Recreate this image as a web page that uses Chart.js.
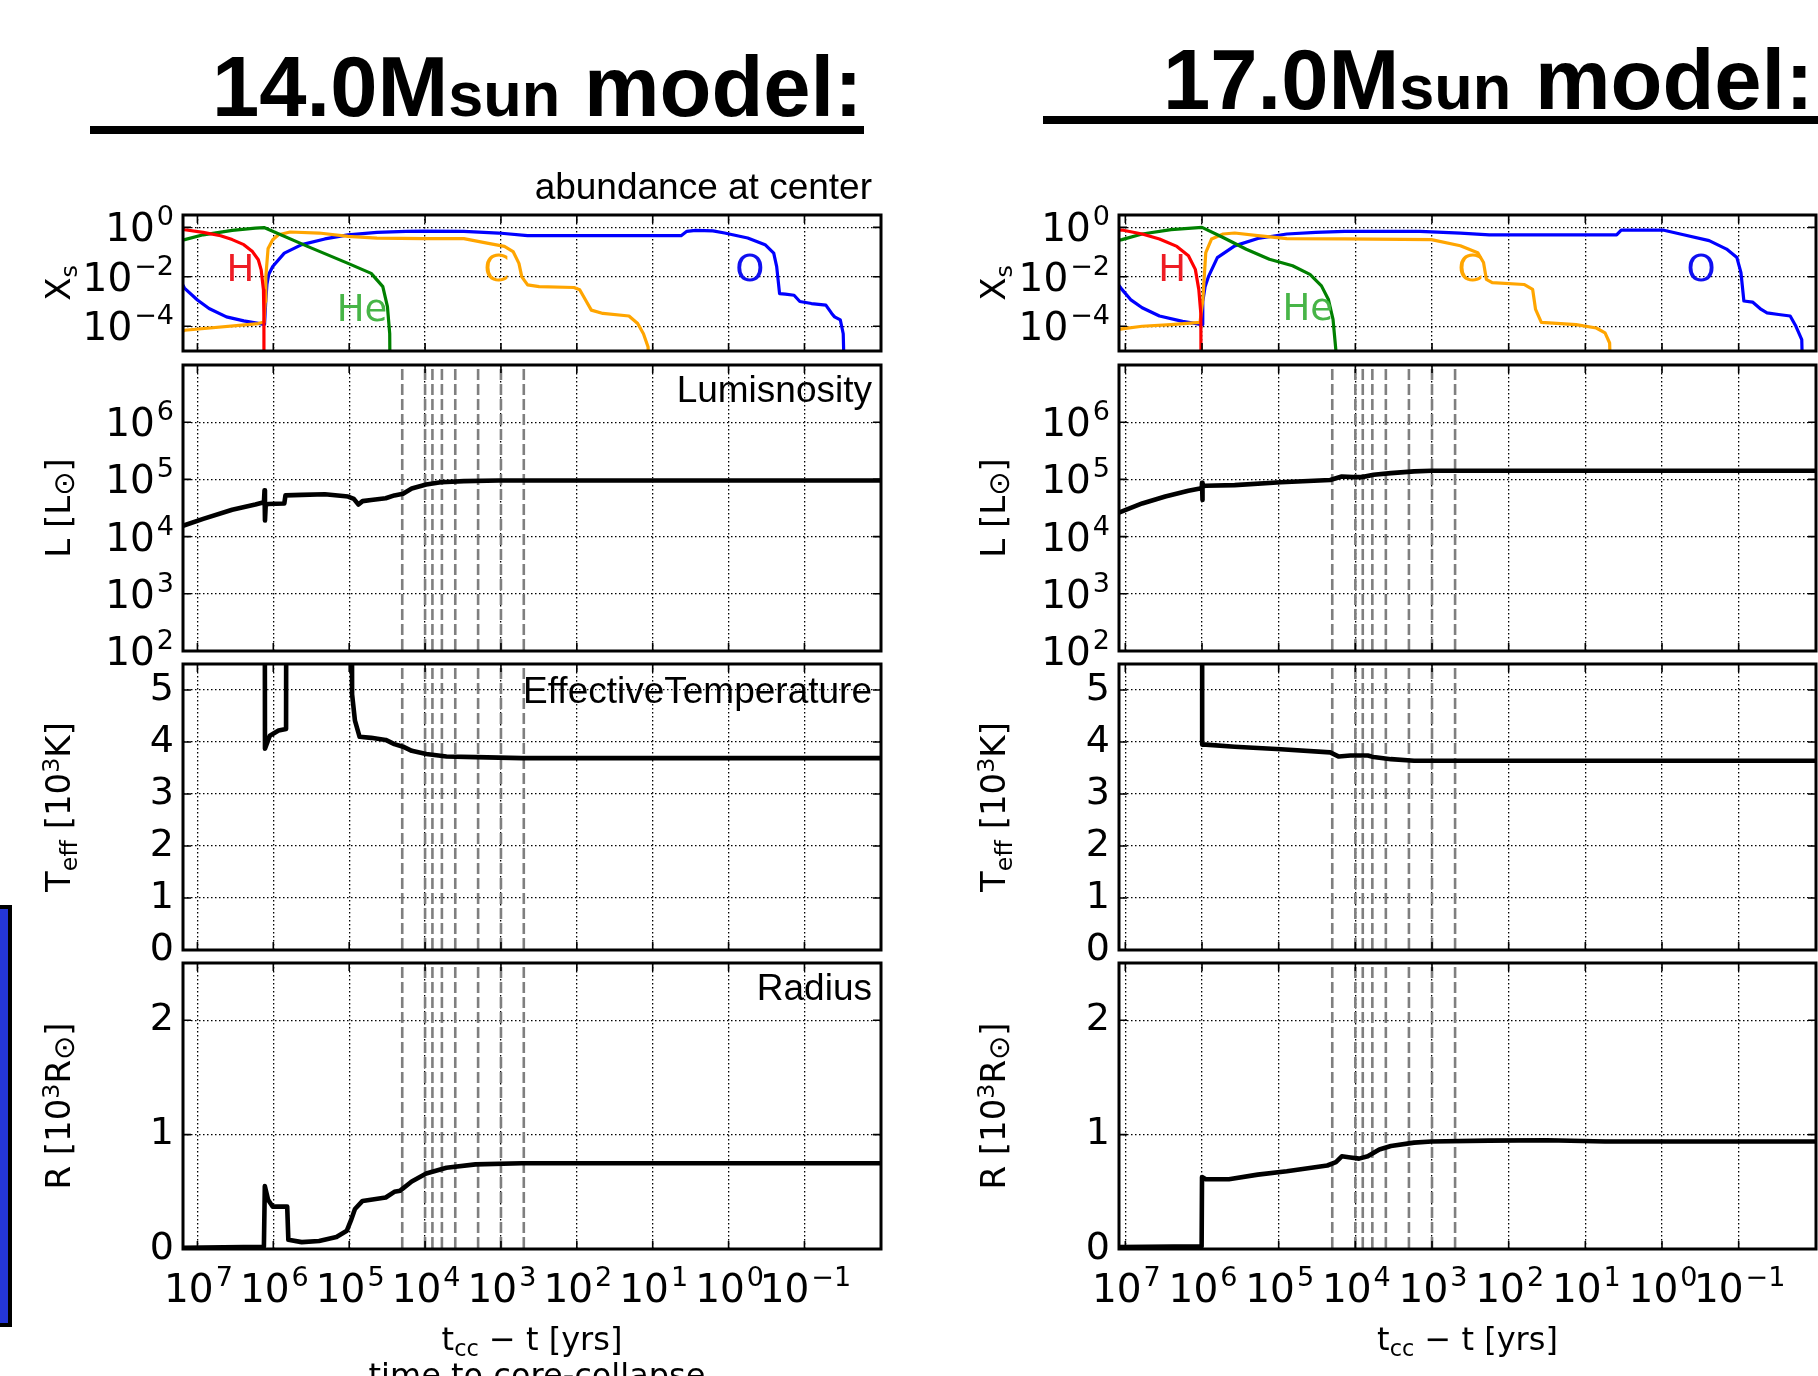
<!DOCTYPE html>
<html><head><meta charset="utf-8">
<script src="https://cdn.jsdelivr.net/npm/chart.js@4.4.1/dist/chart.umd.min.js"></script>
<style>
html,body{margin:0;padding:0;background:#fff;width:1818px;height:1376px;overflow:hidden;position:relative}
canvas{position:absolute}
.t{position:absolute;white-space:nowrap;line-height:1;color:#000}
.t sub{font-size:70%;vertical-align:-0.28em;line-height:0}
.t sup{font-size:70%;vertical-align:0.45em;line-height:0}
.t sub.sun{font-size:85%;vertical-align:-0.15em}
</style></head><body>
<script>
// ---------------- DATA ----------------
const xTickTimes = [1e7, 1e6, 1e5, 1e4, 1e3, 1e2, 1e1, 1e0, 1e-1];   // tcc - t [yrs]
const phaseTimes = [2e4, 1e4, 8e3, 6e3, 4e3, 2e3, 1e3, 5e2];        // dashed markers [yrs]
const abundTicks = [1e0, 1e-2, 1e-4];
const lumTicks   = [1e2, 1e3, 1e4, 1e5, 1e6, 1e7];
const teffTicks  = [0, 1, 2, 3, 4, 5];
const radTicks   = [0, 1, 2];
const speciesNames = ['H', 'He', 'C', 'O'];

// ---- 14.0 Msun : central abundances (log10 of tcc-t in yrs, mass fraction) ----
const m14_H_lgt = [7.19, 7.168, 6.924, 6.695, 6.542, 6.389, 6.275, 6.198, 6.160, 6.130, 6.124, 6.122];
const m14_H_X   = [0.83, 0.80, 0.63, 0.46, 0.32, 0.20, 0.105, 0.049, 0.019, 0.003, 2.5e-4, 1e-9];
const m14_He_lgt = [7.19, 7.168, 6.924, 6.542, 6.237, 6.122, 5.550, 5.015, 4.710, 4.557, 4.496, 4.466, 4.455];
const m14_He_X   = [0.31, 0.32, 0.50, 0.76, 0.93, 0.98, 0.17, 0.035, 0.0138, 0.004, 6.2e-4, 5e-5, 1e-9];
const m14_C_lgt = [7.19, 7.168, 6.198, 6.122, 6.107, 6.099, 6.069, 6.008, 5.931, 5.779, 5.397, 5.015, 4.634, 4.023, 3.489, 3.183, 2.954, 2.840, 2.763, 2.725, 2.649, 2.496, 2.038, 1.962, 1.885, 1.809, 1.656, 1.313, 1.198, 1.122, 1.061, 1.03];
const m14_C_X   = [6.3e-5, 6.9e-5, 1.29e-4, 1.48e-4, 1.0e-3, 1.0e-2, 0.141, 0.316, 0.50, 0.65, 0.59, 0.43, 0.37, 0.35, 0.35, 0.23, 0.17, 0.105, 0.035, 0.010, 4.7e-3, 4.0e-3, 3.7e-3, 3.0e-3, 1.15e-3, 4.5e-4, 3.3e-4, 2.6e-4, 1.29e-4, 5.0e-5, 1.45e-5, 1e-9];
const m14_O_lgt = [7.19, 7.168, 7.0, 6.847, 6.618, 6.389, 6.122, 6.115, 6.100, 6.084, 6.060, 6.008, 5.855, 5.626, 5.321, 5.015, 4.634, 4.252, 4.023, 3.489, 3.031, 2.649, 1.962, 0.626, 0.550, 0.435, 0.206, 0.053, -0.252, -0.481, -0.595, -0.634, -0.672, -0.748, -0.863, -0.939, -1.092, -1.282, -1.359, -1.397, -1.473, -1.511, -1.55];
const m14_O_X   = [4.5e-3, 3.4e-3, 1.15e-3, 5.2e-4, 2.4e-4, 1.66e-4, 1.2e-4, 1.26e-4, 1.0e-3, 5.0e-3, 0.0126, 0.026, 0.091, 0.20, 0.34, 0.50, 0.63, 0.69, 0.71, 0.69, 0.59, 0.46, 0.46, 0.46, 0.69, 0.76, 0.72, 0.59, 0.37, 0.20, 0.091, 0.026, 2.1e-3, 2.0e-3, 1.8e-3, 1.0e-3, 8.3e-4, 7.2e-4, 3.3e-4, 2.4e-4, 1.8e-4, 5.0e-5, 1e-9];
// ---- 14.0 Msun : surface quantities ----
const m14_L_lgt = [7.19, 6.924, 6.542, 6.237, 6.124, 6.116, 6.110, 6.100, 6.069, 5.855, 5.840, 5.626, 5.321, 5.015, 4.939, 4.878, 4.824, 4.710, 4.519, 4.405, 4.290, 4.176, 3.985, 3.794, 3.489, 3.031, -2.01];
const m14_L     = [15500, 20400, 29500, 36300, 39800, 64600, 19100, 35500, 37200, 38000, 52500, 53700, 55000, 50100, 45700, 36300, 41700, 43700, 46800, 52500, 56200, 69200, 81300, 89100, 93300, 95500, 95500];
const m14_T_lgt = [7.19, 6.124, 6.110, 6.046, 5.931, 5.832, 5.817, 4.977, 4.962, 4.924, 4.863, 4.710, 4.519, 4.405, 4.290, 4.176, 3.985, 3.718, 3.336, 2.725, -2.01];
const m14_Teff  = [20, 20, 3.87, 4.12, 4.22, 4.25, 20, 20, 4.92, 4.41, 4.10, 4.08, 4.04, 3.96, 3.91, 3.83, 3.77, 3.72, 3.71, 3.69, 3.69];
const m14_R_lgt = [7.19, 6.124, 6.112, 6.069, 6.008, 5.817, 5.802, 5.626, 5.397, 5.168, 5.031, 4.977, 4.924, 4.824, 4.519, 4.405, 4.328, 4.176, 3.985, 3.718, 3.336, 2.725, -2.01];
const m14_R     = [0.01, 0.02, 0.55, 0.43, 0.37, 0.37, 0.08, 0.06, 0.07, 0.105, 0.16, 0.25, 0.35, 0.42, 0.45, 0.50, 0.51, 0.59, 0.66, 0.71, 0.74, 0.75, 0.75];

// ---- 17.0 Msun : central abundances ----
const m17_H_lgt = [7.083, 7.045, 6.781, 6.555, 6.328, 6.177, 6.087, 6.042, 6.015, 6.011];
const m17_H_X   = [0.79, 0.78, 0.54, 0.34, 0.17, 0.071, 0.020, 0.0031, 3.2e-4, 1e-9];
const m17_He_lgt = [7.083, 7.045, 6.781, 6.404, 6.0, 5.725, 5.423, 5.121, 4.819, 4.592, 4.442, 4.351, 4.291, 4.253, 4.25];
const m17_He_X   = [0.30, 0.32, 0.54, 0.81, 1.0, 0.39, 0.13, 0.051, 0.028, 0.0126, 0.0043, 0.0012, 1.9e-4, 1e-5, 1e-9];
const m17_C_lgt = [7.083, 7.045, 6.781, 6.404, 6.026, 5.989, 5.951, 5.875, 5.725, 5.574, 5.272, 4.894, 4.140, 3.008, 2.630, 2.404, 2.328, 2.291, 2.215, 1.800, 1.687, 1.649, 1.574, 1.121, 0.857, 0.743, 0.683, 0.645];
const m17_C_X   = [7.4e-5, 7.8e-5, 1.0e-4, 1.17e-4, 1.45e-4, 1.2e-3, 0.095, 0.34, 0.54, 0.59, 0.46, 0.35, 0.34, 0.32, 0.18, 0.095, 0.038, 7.9e-3, 5.8e-3, 4.9e-3, 3.1e-3, 4.8e-4, 1.45e-4, 1.17e-4, 8.5e-5, 5.4e-5, 2.1e-5, 1e-9];
const m17_O_lgt = [7.083, 7.045, 6.932, 6.781, 6.555, 6.253, 6.0, 5.99, 5.96, 5.913, 5.8, 5.574, 5.272, 4.894, 4.517, 4.140, 3.158, 2.630, 2.253, 0.592, 0.532, 0.291, -0.011, -0.238, -0.615, -0.842, -0.977, -1.030, -1.068, -1.181, -1.294, -1.370, -1.521, -1.672, -1.747, -1.823, -1.86];
const m17_O_X   = [4.5e-3, 3.1e-3, 1.2e-3, 5.6e-4, 2.6e-4, 1.58e-4, 1.17e-4, 1.0e-3, 4.0e-3, 0.0107, 0.060, 0.178, 0.355, 0.54, 0.63, 0.69, 0.69, 0.59, 0.50, 0.50, 0.78, 0.78, 0.78, 0.54, 0.29, 0.132, 0.060, 0.0148, 1.05e-3, 9.5e-4, 4.8e-4, 3.5e-4, 3.0e-4, 2.6e-4, 1.0e-4, 2.9e-5, 1e-9];
// ---- 17.0 Msun : surface quantities ----
const m17_L_lgt = [7.083, 7.068, 6.781, 6.479, 6.177, 6.026, 6.003, 6.0, 5.997, 5.99, 5.951, 5.574, 4.970, 4.328, 4.177, 4.026, 3.913, 3.762, 3.536, 3.234, 3.008, -2.01];
const m17_L     = [26300, 26900, 38000, 50100, 63100, 69200, 72400, 87100, 43700, 75900, 77600, 79400, 89100, 97700, 112200, 109600, 109600, 120200, 128800, 138000, 141300, 141300];
const m17_T_lgt = [7.083, 6.0, 5.998, 5.951, 5.574, 4.970, 4.328, 4.215, 4.064, 3.838, 3.762, 3.536, 3.234, 3.008, -2.01];
const m17_Teff  = [20, 20, 3.95, 3.95, 3.91, 3.86, 3.80, 3.72, 3.74, 3.74, 3.71, 3.67, 3.64, 3.64, 3.64];
const m17_R_lgt = [7.083, 6.005, 6.0, 5.951, 5.649, 5.272, 4.894, 4.366, 4.253, 4.177, 4.064, 3.951, 3.838, 3.687, 3.536, 3.234, 3.008, 2.253, 1.498, 0.743, -2.01];
const m17_R     = [0.018, 0.023, 0.63, 0.61, 0.61, 0.65, 0.68, 0.73, 0.76, 0.81, 0.80, 0.79, 0.81, 0.87, 0.90, 0.93, 0.94, 0.947, 0.95, 0.94, 0.94];

// ---------------- LAYOUT / STYLE ----------------
const SPECIES_COLORS = {H: '#ff0000', He: '#008000', C: '#ffa500', O: '#0000ff'};
const LABEL_COLORS   = {H: '#ee1c24', He: '#47b547', C: '#ffa500', O: '#1010f0'};
const TICKFONT = {family: "'DejaVu Sans'", size: 38};
const COLS = [
  {left: 183, right: 881, xMin: 0.0098, xMax: 1.55e7, ytx: 58,
   labelPos: {H: [6.435, -1.80], He: [4.83, -3.39], C: [3.06, -1.80], O: [-0.28, -1.80]}},
  {left: 1119, right: 1816, xMin: 0.0098, xMax: 1.21e7, ytx: 993,
   labelPos: {H: [6.39, -1.78], He: [4.62, -3.36], C: [2.50, -1.78], O: [-0.51, -1.78]}}
];
const ROWS = [{top: 215, bottom: 351}, {top: 365, bottom: 651}, {top: 664, bottom: 950}, {top: 963, bottom: 1249}];

function expOf(v) { return Math.round(Math.log10(v)); }
function series(lgt, vals) { return lgt.map((l, i) => ({x: Math.pow(10, l), y: vals[i]})); }

// draws "10" with a raised exponent, mathtext style
function drawPow(ctx, value, x, baseY, align) {
  const main = '10', ex = String(expOf(value)).replace('-', '−');
  ctx.font = "39px 'DejaVu Sans'";
  const w1 = ctx.measureText(main).width;
  ctx.font = "27px 'DejaVu Sans'";
  const w2 = ctx.measureText(ex).width;
  const gap = 2, total = w1 + gap + w2;
  const x0 = align === 'right' ? x - total : x - total / 2;
  ctx.textAlign = 'left'; ctx.textBaseline = 'alphabetic'; ctx.fillStyle = '#000';
  ctx.font = "39px 'DejaVu Sans'"; ctx.fillText(main, x0, baseY);
  ctx.font = "27px 'DejaVu Sans'"; ctx.fillText(ex, x0 + w1 + gap, baseY - 16);
}

const framePlugin = {
  id: 'frame',
  beforeDatasetsDraw(chart, args, o) {
    if (!o.phases) return;
    const {ctx, chartArea: a} = chart, xs = chart.scales.x;
    ctx.save();
    ctx.beginPath(); ctx.rect(a.left, a.top, a.width, a.height); ctx.clip();
    ctx.strokeStyle = '#7f7f7f'; ctx.lineWidth = 2.6; ctx.setLineDash([11, 4]);
    o.phases.forEach(t => {
      const px = xs.getPixelForValue(t);
      ctx.beginPath(); ctx.moveTo(px, a.top + 4); ctx.lineTo(px, a.bottom); ctx.stroke();
    });
    ctx.restore();
  },
  afterDraw(chart, args, o) {
    const {ctx, chartArea: a} = chart, xs = chart.scales.x, ys = chart.scales.y;
    ctx.save();
    if (o.labels) {
      ctx.font = "37px 'DejaVu Sans'"; ctx.textAlign = 'center'; ctx.textBaseline = 'middle';
      o.labels.forEach(l => {
        ctx.fillStyle = l.color;
        ctx.fillText(l.text, xs.getPixelForValue(l.x), ys.getPixelForValue(l.y));
      });
    }
    if (o.powY) {
      ys.ticks.forEach(t => {
        if (o.skipY && o.skipY.includes(t.value)) return;
        drawPow(ctx, t.value, a.left - 9, ys.getPixelForValue(t.value) + 14, 'right');
      });
    }
    if (o.powX) {
      xs.ticks.forEach(t => drawPow(ctx, t.value, xs.getPixelForValue(t.value) + 1, a.bottom + 53, 'center'));
    }
    ctx.strokeStyle = '#000'; ctx.lineWidth = 1.6; ctx.setLineDash([]);
    const TL = 8;
    xs.ticks.forEach(t => {
      const px = xs.getPixelForValue(t.value);
      if (px < a.left || px > a.right) return;
      ctx.beginPath(); ctx.moveTo(px, a.bottom); ctx.lineTo(px, a.bottom - TL);
      ctx.moveTo(px, a.top); ctx.lineTo(px, a.top + TL); ctx.stroke();
    });
    ys.ticks.forEach(t => {
      const py = ys.getPixelForValue(t.value);
      ctx.beginPath(); ctx.moveTo(a.left, py); ctx.lineTo(a.left + TL, py);
      ctx.moveTo(a.right, py); ctx.lineTo(a.right - TL, py); ctx.stroke();
    });
    ctx.lineWidth = 3;
    ctx.strokeRect(a.left, a.top, a.right - a.left, a.bottom - a.top);
    ctx.restore();
  }
};

function buildPanel(col, row, cfg) {
  const YW = 175, PT = 40, PR = 2, PB = cfg.xLabels ? 80 : 40;
  const cv = document.createElement('canvas');
  const w = (col.right - col.left) + YW + PR, h = (row.bottom - row.top) + PT + PB;
  cv.width = w; cv.height = h;
  cv.style.left = (col.left - YW) + 'px'; cv.style.top = (row.top - PT) + 'px';
  cv.style.width = w + 'px'; cv.style.height = h + 'px';
  document.body.appendChild(cv);
  const gridOpts = {color: '#000', lineWidth: 1.3, drawTicks: false};
  const borderOpts = {display: false, dash: [1.5, 2.5]};
  const yLog = cfg.yType === 'logarithmic';
  new Chart(cv, {
    type: 'line',
    data: {datasets: cfg.datasets},
    options: {
      responsive: false, animation: false, devicePixelRatio: 1,
      layout: {padding: {top: PT, right: PR, bottom: cfg.xLabels ? 0 : PB, left: 0}},
      elements: {point: {radius: 0, hoverRadius: 0},
                 line: {tension: 0, borderJoinStyle: 'round', borderCapStyle: 'round'}},
      plugins: {legend: {display: false}, tooltip: {enabled: false},
                frame: {phases: cfg.phases, labels: cfg.labels, powX: !!cfg.xLabels, powY: yLog, skipY: cfg.skipY}},
      scales: {
        x: {type: 'logarithmic', reverse: true, min: col.xMin, max: col.xMax,
            afterBuildTicks: s => { s.ticks = xTickTimes.map(v => ({value: v})); },
            afterFit: s => { s.height = cfg.xLabels ? PB : 0; },
            grid: gridOpts, border: borderOpts,
            ticks: {display: false}},
        y: {type: cfg.yType, min: cfg.yMin, max: cfg.yMax,
            afterBuildTicks: s => { s.ticks = cfg.yTicks.map(v => ({value: v})); },
            afterFit: s => { s.width = YW; },
            grid: gridOpts, border: borderOpts,
            ticks: {display: !yLog, autoSkip: false, padding: 9, color: '#000', font: TICKFONT}}
      }
    },
    plugins: [framePlugin]
  });
}

function addText(html, css) {
  const d = document.createElement('div');
  d.className = 't'; d.innerHTML = html;
  Object.assign(d.style, css);
  document.body.appendChild(d);
  return d;
}

const models = [
  {H: [m14_H_lgt, m14_H_X], He: [m14_He_lgt, m14_He_X], C: [m14_C_lgt, m14_C_X], O: [m14_O_lgt, m14_O_X],
   L: [m14_L_lgt, m14_L], T: [m14_T_lgt, m14_Teff], R: [m14_R_lgt, m14_R]},
  {H: [m17_H_lgt, m17_H_X], He: [m17_He_lgt, m17_He_X], C: [m17_C_lgt, m17_C_X], O: [m17_O_lgt, m17_O_X],
   L: [m17_L_lgt, m17_L], T: [m17_T_lgt, m17_Teff], R: [m17_R_lgt, m17_R]}
];

function blackLine(pair) {
  return {data: series(pair[0], pair[1]), borderColor: '#000', borderWidth: 4.6, pointRadius: 0, fill: false};
}

models.forEach((m, ci) => {
  const col = COLS[ci];
  buildPanel(col, ROWS[0], {
    yType: 'logarithmic', yMin: 1e-5, yMax: 3.162, yTicks: abundTicks,
    datasets: speciesNames.map(s => ({data: series(m[s][0], m[s][1]), borderColor: SPECIES_COLORS[s],
      borderWidth: 3.2, pointRadius: 0, fill: false})),
    labels: speciesNames.map(s => ({text: s, color: LABEL_COLORS[s],
      x: Math.pow(10, col.labelPos[s][0]), y: Math.pow(10, col.labelPos[s][1])}))
  });
  buildPanel(col, ROWS[1], {
    yType: 'logarithmic', yMin: 1e2, yMax: 1e7, yTicks: lumTicks, skipY: [1e7],
    datasets: [blackLine(m.L)], phases: phaseTimes
  });
  buildPanel(col, ROWS[2], {
    yType: 'linear', yMin: 0, yMax: 5.5, yTicks: teffTicks,
    datasets: [blackLine(m.T)], phases: phaseTimes
  });
  buildPanel(col, ROWS[3], {
    yType: 'linear', yMin: 0, yMax: 2.5, yTicks: radTicks,
    datasets: [blackLine(m.R)], phases: phaseTimes, xLabels: true
  });

  const yt = ['X<sub>s</sub>', 'L [L<sub class="sun">⊙</sub>]', 'T<sub>eff</sub> [10<sup>3</sup>K]', 'R [10<sup>3</sup>R<sub class="sun">⊙</sub>]'];
  yt.forEach((html, ri) => {
    const cy = (ROWS[ri].top + ROWS[ri].bottom) / 2;
    addText(html, {left: col.ytx + 'px', top: cy + 'px', fontFamily: "'DejaVu Sans'", fontSize: '34px',
      transform: 'translate(-50%,-50%) rotate(-90deg)'});
  });
  addText('t<sub>cc</sub> − t [yrs]', {left: ((col.left + col.right) / 2) + 'px', top: '1323px',
    fontFamily: "'DejaVu Sans'", fontSize: '32px', transform: 'translateX(-50%)'});
});

// Titles
const titleCss = {fontFamily: "'Liberation Sans', Arial, sans-serif", fontWeight: 'bold', fontSize: '85px'};
addText('14.0M<span style="font-size:63px">sun</span> model:', Object.assign({left: '212px', top: '44px'}, titleCss));
addText('17.0M<span style="font-size:63px">sun</span> model:', Object.assign({left: '1163px', top: '37px'}, titleCss));
addText('', {left: '90px', top: '126px', width: '774px', height: '8px', background: '#000'});
addText('', {left: '1043px', top: '116px', width: '775px', height: '8px', background: '#000'});

// panel annotations (left model only)
const annCss = {fontFamily: "'Liberation Sans', Arial, sans-serif", fontSize: '37px', width: '500px', textAlign: 'right'};
addText('abundance at center', Object.assign({left: '372px', top: '168px'}, annCss));
addText('Lumisnosity', Object.assign({left: '372px', top: '371px'}, annCss));
addText('EffectiveTemperature', Object.assign({left: '372px', top: '672px'}, annCss));
addText('Radius', Object.assign({left: '372px', top: '969px'}, annCss));
addText('time to core-collapse', {left: '537px', top: '1359px', fontFamily: "'DejaVu Sans'", fontSize: '32px',
  transform: 'translateX(-50%)'});

// slide decoration at left edge
addText('', {left: '-20px', top: '905px', width: '31.5px', height: '422px', boxSizing: 'border-box',
  background: '#2436d8', border: '4.5px solid #000'});
</script>
</body></html>
